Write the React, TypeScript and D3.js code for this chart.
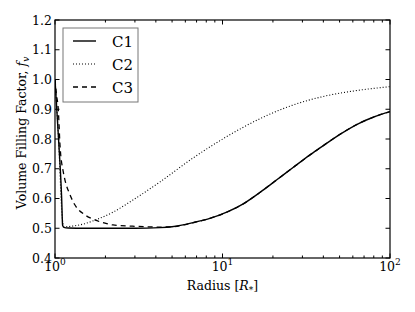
import React from "react";
import * as d3 from "d3";

const c1X = [1.0, 1.05, 1.096, 1.11, 1.13, 1.2, 1.5, 2, 3, 4.24, 5, 6.7, 8.5, 10.6, 13.3, 16.7, 21, 26.5, 33, 38.2, 50, 65, 80, 100];
const c1Y = [1.0, 0.8, 0.6, 0.51, 0.503, 0.501, 0.5, 0.5, 0.5, 0.502, 0.505, 0.519, 0.534, 0.554, 0.582, 0.62, 0.662, 0.705, 0.745, 0.77, 0.815, 0.852, 0.874, 0.892];

const c2X = [1.0, 1.05, 1.1, 1.13, 1.3, 1.5, 1.73, 2.2, 2.92, 4.24, 6.7, 10.6, 16.7, 26, 40, 60, 100];
const c2Y = [1.0, 0.8, 0.55, 0.505, 0.508, 0.515, 0.527, 0.553, 0.595, 0.656, 0.737, 0.808, 0.868, 0.913, 0.943, 0.961, 0.976];

const c3X = [1.0, 1.02, 1.046, 1.071, 1.12, 1.147, 1.23, 1.316, 1.51, 1.73, 1.99, 2.22, 2.9, 4.24, 5, 6.7, 8.5, 10.6, 13.3, 16.7, 21, 26.5, 33, 38.2, 50, 65, 80, 100];
const c3Y = [1.0, 0.95, 0.9, 0.78, 0.69, 0.662, 0.612, 0.578, 0.545, 0.528, 0.517, 0.511, 0.507, 0.504, 0.505, 0.519, 0.534, 0.554, 0.582, 0.62, 0.662, 0.705, 0.745, 0.77, 0.815, 0.852, 0.874, 0.892];

const seriesNames = ["C1", "C2", "C3"];
const yTicks = [0.4, 0.5, 0.6, 0.7, 0.8, 0.9, 1.0, 1.1, 1.2];
const xMajor = [1, 10, 100];
const xExp = ["0", "1", "2"];

const W = 415, H = 312;
const M = { left: 55, right: 25, top: 20, bottom: 54 };
const FONT = "DejaVu Serif";

export default function App() {
  const x = d3.scaleLog().domain([1, 100]).range([M.left, W - M.right]);
  const y = d3.scaleLinear().domain([0.4, 1.2]).range([H - M.bottom, M.top]);
  const line = d3
    .line<[number, number]>()
    .x((d) => x(d[0]))
    .y((d) => y(d[1]))
    .curve(d3.curveMonotoneX);
  const mk = (xs: number[], ys: number[]) => xs.map((v, i) => [v, ys[i]] as [number, number]);
  const series = [
    { d: mk(c1X, c1Y), dash: undefined as string | undefined, w: 1.4 },
    { d: mk(c2X, c2Y), dash: "1,2", w: 1.1 },
    { d: mk(c3X, c3Y), dash: "5,4", w: 1.3 },
  ];
  const minor: number[] = [];
  for (let dec = 1; dec < 100; dec *= 10) for (let k = 2; k <= 9; k++) minor.push(dec * k);
  const x0 = M.left, x1 = W - M.right, y0 = M.top, y1 = H - M.bottom;

  const lgX = 63, lgY = 28, lgW = 75, lgH = 74;
  const rows = [41, 64, 87];

  return (
    <svg width={W} height={H} style={{ position: "fixed", left: 0, top: 0, background: "#fff" }} fontFamily={FONT}>
      <rect x={0} y={0} width={W} height={H} fill="#fff" />
      <defs>
        <clipPath id="plot">
          <rect x={x0} y={y0} width={x1 - x0} height={y1 - y0} />
        </clipPath>
      </defs>
      <g clipPath="url(#plot)">
        {series.map((s, i) => (
          <path key={i} d={line(s.d) || ""} fill="none" stroke="#000" strokeWidth={s.w} strokeDasharray={s.dash} />
        ))}
      </g>
      {yTicks.map((t) => (
        <g key={t}>
          <line x1={x0} x2={x0 + 4.5} y1={y(t)} y2={y(t)} stroke="#000" />
          <line x1={x1} x2={x1 - 4.5} y1={y(t)} y2={y(t)} stroke="#000" />
          <text x={x0 - 3} y={y(t) + 4.5} textAnchor="end" fontSize={12.5}>
            {t.toFixed(1)}
          </text>
        </g>
      ))}
      {xMajor.map((t, i) => (
        <g key={t}>
          <line x1={x(t)} x2={x(t)} y1={y1} y2={y1 - 4.5} stroke="#000" />
          <line x1={x(t)} x2={x(t)} y1={y0} y2={y0 + 4.5} stroke="#000" />
          <text x={x(t)} y={y1 + 13} textAnchor="middle" fontSize={12.5}>
            10
            <tspan dy={-6} fontSize={9}>
              {xExp[i]}
            </tspan>
          </text>
        </g>
      ))}
      {minor.map((t) => (
        <g key={t}>
          <line x1={x(t)} x2={x(t)} y1={y1} y2={y1 - 2.5} stroke="#000" />
          <line x1={x(t)} x2={x(t)} y1={y0} y2={y0 + 2.5} stroke="#000" />
        </g>
      ))}
      <rect x={x0} y={y0} width={x1 - x0} height={y1 - y0} fill="none" stroke="#000" strokeWidth={1.2} />
      <text x={(x0 + x1) / 2} y={290} textAnchor="middle" fontSize={12.5}>
        Radius [<tspan fontStyle="italic">R</tspan>
        <tspan dy={3} fontSize={9}>*</tspan>
        <tspan dy={-3}>]</tspan>
      </text>
      <text transform={`translate(26,${(y0 + y1) / 2 - 6}) rotate(-90)`} textAnchor="middle" fontSize={12.5}>
        Volume Filling Factor, <tspan fontStyle="italic">f</tspan>
        <tspan dy={3} fontSize={9} fontStyle="italic">v</tspan>
      </text>
      <rect x={lgX} y={lgY} width={lgW} height={lgH} fill="#fff" stroke="#777" strokeWidth={1} />
      {series.map((s, i) => (
        <g key={i}>
          <line x1={73} x2={96} y1={rows[i]} y2={rows[i]} stroke="#000" strokeWidth={s.w} strokeDasharray={s.dash} />
          <text x={112} y={rows[i] + 5.5} fontSize={15}>
            {seriesNames[i]}
          </text>
        </g>
      ))}
    </svg>
  );
}
